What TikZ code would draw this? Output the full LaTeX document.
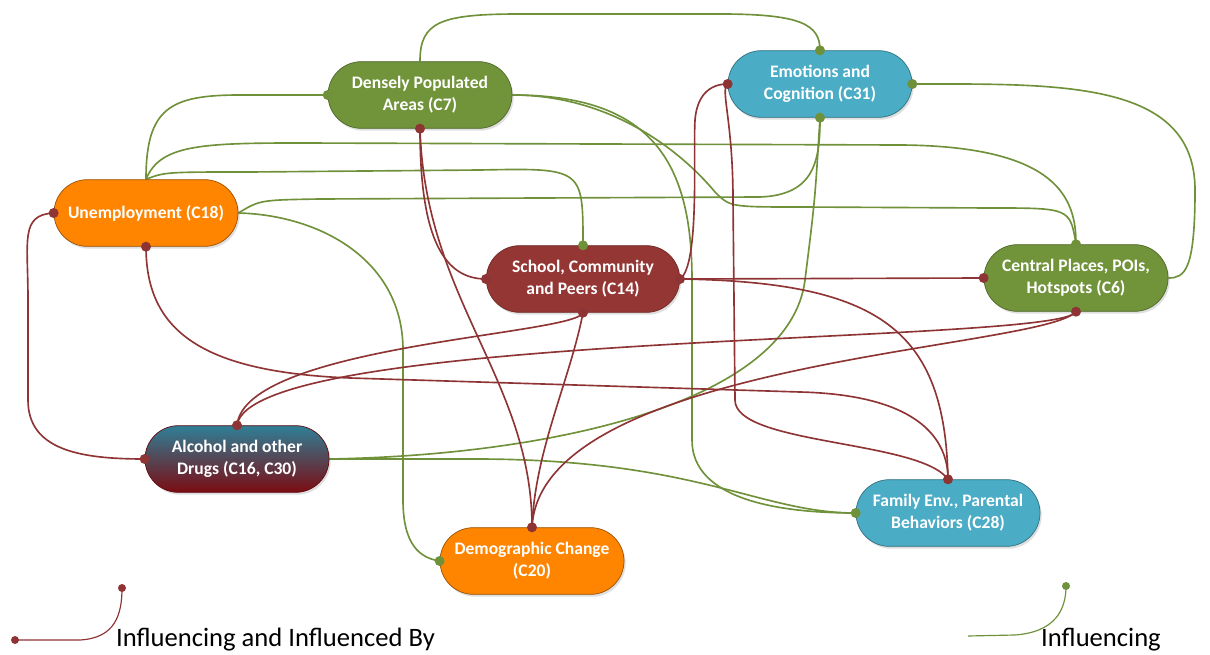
\documentclass[tikz,border=0pt]{standalone}
\usepackage{fontspec}
\setmainfont{Carlito}
\usepackage{xcolor}
\usetikzlibrary{shadows, backgrounds}

\definecolor{nodegreen}{HTML}{71933A}
\definecolor{nodeblue}{HTML}{4BACC6}
\definecolor{nodeorange}{HTML}{FF8500}
\definecolor{nodered}{HTML}{943634}
\definecolor{drugtop}{HTML}{2F7F97}
\definecolor{drugbottom}{HTML}{7B0C12}
\definecolor{linkred}{HTML}{8E3434}
\definecolor{linkgreen}{HTML}{6F913A}

\tikzstyle{factor} = [rectangle, rounded corners=1cm, minimum width=5.52cm, minimum height=2cm, align=center, text=white, font=\fontsize{15}{18.7}\selectfont\bfseries, line width=0.6pt, drop shadow={opacity=0.25, shadow xshift=0.05cm, shadow yshift=-0.07cm}]
\tikzstyle{greenbox} = [factor, fill=nodegreen, draw=nodegreen!70!black]
\tikzstyle{bluebox} = [factor, fill=nodeblue, draw=nodeblue!65!black]
\tikzstyle{orangebox} = [factor, fill=nodeorange, draw=nodeorange!60!black]
\tikzstyle{redbox} = [factor, fill=nodered, draw=nodered!75!black]
\tikzstyle{drugbox} = [factor, top color=drugtop, bottom color=drugbottom, draw=drugbottom!80!black]
\tikzstyle{redlink} = [draw=linkred, line width=1.4pt]
\tikzstyle{greenlink} = [draw=linkgreen, line width=1.4pt]
\tikzstyle{legendtext} = [anchor=west, font=\fontsize{22.7}{27}\selectfont]

\begin{document}
\begin{tikzpicture}[x=0.03cm, y=-0.03cm]
\useasboundingbox (0,0) rectangle (1210,655);

% Nodes
\node (c7) [greenbox] at (420,95) {Densely Populated\\Areas (C7)};
\node (c31) [bluebox] at (820,84) {Emotions and\\Cognition (C31)};
\node (c18) [orangebox] at (146,213) {Unemployment (C18)};
\node (c14) [redbox, minimum width=5.8cm] at (583,279) {School, Community\\and Peers (C14)};
\node (c6) [greenbox] at (1076,278) {Central Places, POIs,\\Hotspots (C6)};
\node (c16) [drugbox] at (237,459) {Alcohol and other\\Drugs (C16, C30)};
\node (c28) [bluebox] at (948,513) {Family Env., Parental\\Behaviors (C28)};
\node (c20) [orangebox] at (532,561) {Demographic Change\\(C20)};

\begin{scope}[on background layer]
% Influencing
\draw [greenlink] (c7.north) .. controls (420,22) and (440,14) .. (520,14) -- (720,14) .. controls (800,14) and (820,24) .. (c31.north);
\draw [greenlink] (c18.north) .. controls (146,108) and (170,95) .. (240,95) -- (c7.west);
\draw [greenlink] (c18.north) .. controls (160,145) and (200,143) .. (300,143) -- (900,145) .. controls (1060,146) and (1076,200) .. (c6.north);
\draw [greenlink] (c18.north) .. controls (165,172) .. (250,172) -- (480,170) .. controls (583,168) .. (c14.north);
\draw [greenlink] (c18.east) .. controls (260,200) .. (320,199) -- (760,197) .. controls (815,195) and (820,160) .. (c31.south);
\draw [greenlink] (c18.east) .. controls (320,215) and (403,260) .. (403,350) -- (403,500) .. controls (403,545) and (420,558) .. (c20.west);
\draw [greenlink] (c7.east) .. controls (610,95) and (680,150) .. (715,192) .. controls (730,207) .. (800,207) -- (990,208) .. controls (1070,208) .. (c6.north);
\draw [greenlink] (c7.east) .. controls (650,95) and (692,160) .. (692,280) -- (692,440) .. controls (692,500) and (780,513) .. (c28.west);
\draw [greenlink] (c6.east) .. controls (1185,278) and (1195,270) .. (1195,190) .. controls (1195,80) and (1060,84) .. (c31.east);
\draw [greenlink] (c16.east) -- (480,459) .. controls (700,460) and (760,513) .. (c28.west);
\draw [greenlink] (c16.east) .. controls (560,455) and (790,400) .. (805,280) .. controls (815,200) .. (c31.south);
% Influencing and influenced by
\draw [redlink] (c18.west) .. controls (20,215) and (28,240) .. (28,300) -- (28,400) .. controls (28,450) and (80,459) .. (c16.west);
\draw [redlink] (c18.south) .. controls (146,330) and (200,372) .. (350,378) -- (800,392) .. controls (920,395) and (948,440) .. (c28.north);
\draw [redlink] (c7.south) .. controls (420,230) and (440,279) .. (c14.west);
\draw [redlink] (c7.south) .. controls (425,300) and (532,380) .. (c20.north);
\draw [redlink] (c14.east) -- (c6.west);
\draw [redlink] (c14.east) .. controls (700,265) and (693,150) .. (695,120) .. controls (697,95) and (710,84) .. (c31.west);
\draw [redlink] (c31.west) .. controls (720,90) and (733,120) .. (733,200) -- (735,400) .. controls (735,445) and (920,440) .. (c28.north);
\draw [redlink] (c14.east) .. controls (880,282) and (945,330) .. (c28.north);
\draw [redlink] (c14.south) .. controls (575,335) and (245,345) .. (c16.north);
\draw [redlink] (c14.south) .. controls (570,380) and (535,450) .. (c20.north);
\draw [redlink] (c6.south) .. controls (1060,345) and (250,330) .. (c16.north);
\draw [redlink] (c6.south) .. controls (1040,350) and (540,360) .. (c20.north);
\end{scope}

% Link ends
\foreach \p in {c31.north, c7.west, c6.north, c14.north, c31.south, c20.west, c28.west, c31.east}
  \fill [linkgreen] (\p) circle (0.15cm);
\foreach \p in {c7.south, c14.west, c14.east, c14.south, c6.west, c6.south, c31.west, c16.north, c16.west, c18.west, c18.south, c20.north, c28.north}
  \fill [linkred] (\p) circle (0.15cm);

% Legend
\coordinate (redA) at (15,640);
\coordinate (redB) at (122,588);
\draw [linkred, line width=1pt] (redA) -- (80,640) .. controls (115,638) and (122,615) .. (redB);
\fill [linkred] (redA) circle (0.12cm);
\fill [linkred] (redB) circle (0.12cm);
\node (redtext) [legendtext] at (112,640) {Influencing and Influenced By};
\coordinate (greenA) at (968,636);
\coordinate (greenB) at (1066,586);
\draw [linkgreen, line width=1pt] (greenA) -- (1015,635) .. controls (1055,632) and (1066,610) .. (greenB);
\fill [linkgreen] (greenB) circle (0.12cm);
\node (greentext) [legendtext] at (1037,640) {Influencing};

\end{tikzpicture}
\end{document}
